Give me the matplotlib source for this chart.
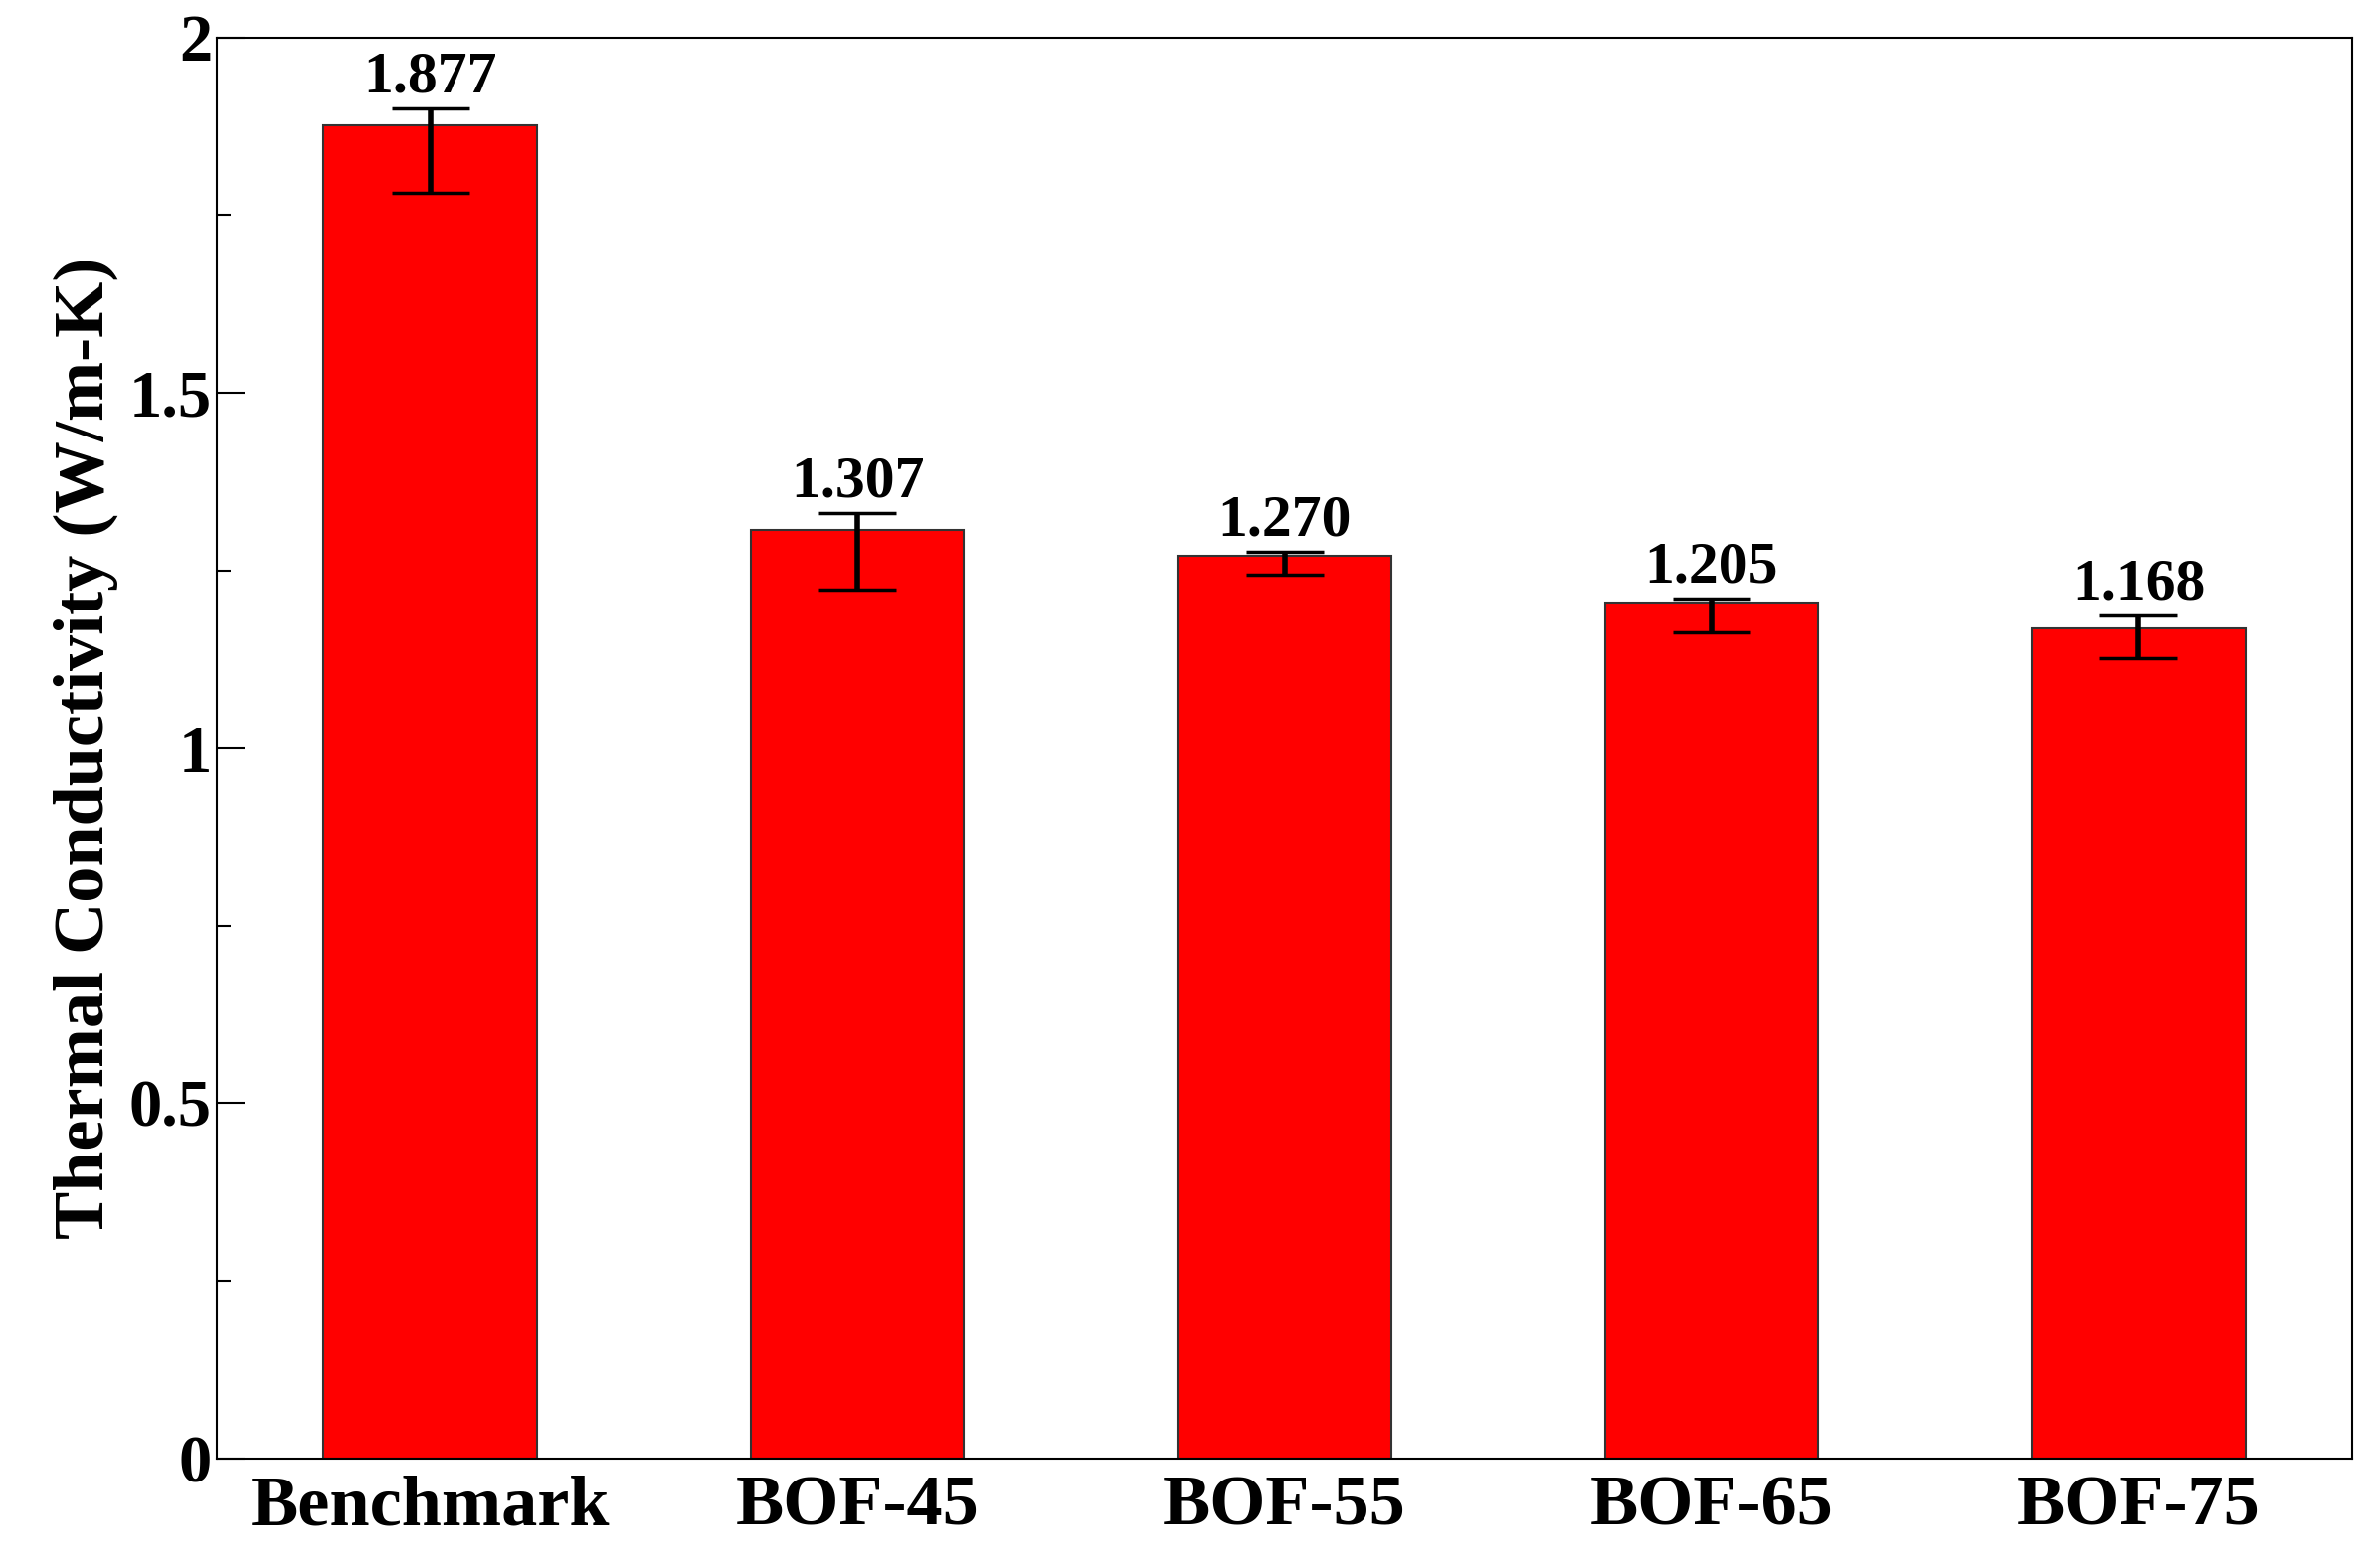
import matplotlib

matplotlib.use("Agg")
import matplotlib.pyplot as plt
from matplotlib.ticker import MultipleLocator

plt.rcParams.update(
    {
        "font.family": "serif",
        "font.serif": ["Liberation Serif", "Times New Roman", "DejaVu Serif"],
        "font.weight": "bold",
    }
)

categories = ["Benchmark", "BOF-45", "BOF-55", "BOF-65", "BOF-75"]
values = [1.877, 1.307, 1.270, 1.205, 1.168]
err_low = [0.096, 0.084, 0.026, 0.042, 0.041]
err_high = [0.023, 0.024, 0.006, 0.005, 0.019]
labels = ["1.877", "1.307", "1.270", "1.205", "1.168"]

fig = plt.figure(figsize=(23.77, 15.77), dpi=100)
ax = fig.add_axes([0.0917, 0.070, 0.9033, 0.906])

x = range(len(categories))
ax.bar(x, values, width=0.5, color="#ff0000", edgecolor="#333333", linewidth=1.5)
ax.errorbar(x, values, yerr=[err_low, err_high], fmt="none", ecolor="black",
            elinewidth=4, capsize=28, capthick=2.5)
for i, (v, hi, t) in enumerate(zip(values, err_high, labels)):
    ax.text(i, v + hi + 0.005, t, ha="center", va="bottom", fontsize=43, fontweight="bold")

ax.set_xlim(-0.5, 4.5)
ax.set_ylim(0, 2)
ax.set_xticks(list(x), categories)
ax.yaxis.set_major_locator(MultipleLocator(0.5))
ax.yaxis.set_minor_locator(MultipleLocator(0.25))
ax.set_yticks([0, 0.5, 1, 1.5, 2], ["0", "0.5", "1", "1.5", "2"])
ax.tick_params(axis="y", which="major", direction="in", length=20, width=1.5, labelsize=48)
ax.tick_params(axis="y", which="minor", direction="in", length=10, width=1.5)
ax.tick_params(axis="x", length=0, labelsize=52, pad=12)
ax.set_ylabel("Thermal Conductivity (W/m-K)", fontsize=52, fontweight="bold", labelpad=8)
for s in ax.spines.values():
    s.set_linewidth(1.5)

fig.savefig("out.png", dpi=100, facecolor="white")
